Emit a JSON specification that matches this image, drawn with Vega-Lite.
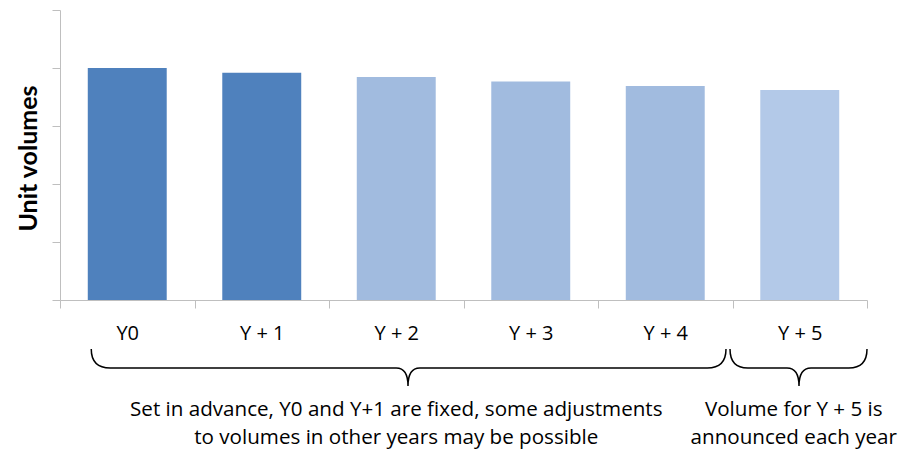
{
  "$schema": "https://vega.github.io/schema/vega-lite/v6.json",
  "width": 807,
  "height": 290,
  "autosize": {"type": "none"},
  "padding": {"left": 60, "top": 10, "right": 54, "bottom": 149},
  "background": "white",
  "config": {"view": {"stroke": null}, "font": "Lato"},
  "data": {
    "values": [
      {"year": "Y0", "volume": 4.0, "status": "fixed"},
      {"year": "Y + 1", "volume": 3.92, "status": "fixed"},
      {"year": "Y + 2", "volume": 3.845, "status": "adjustable"},
      {"year": "Y + 3", "volume": 3.767, "status": "adjustable"},
      {"year": "Y + 4", "volume": 3.69, "status": "adjustable"},
      {"year": "Y + 5", "volume": 3.62, "status": "announced"}
    ]
  },
  "layer": [
    {
      "mark": {"type": "bar", "width": {"band": 0.587}},
      "encoding": {
        "x": {
          "field": "year",
          "type": "nominal",
          "sort": null,
          "scale": {"domain": ["Y0", "Y + 1", "Y + 2", "Y + 3", "Y + 4", "Y + 5"], "paddingInner": 0, "paddingOuter": 0},
          "axis": {
            "title": null,
            "labelAngle": 0,
            "labelFont": "Open Sans",
            "labelFontSize": 20,
            "labelColor": "black",
            "labelBaseline": "alphabetic",
            "labelPadding": 31,
            "domainColor": "#bfbfbf",
            "tickColor": "#bfbfbf",
            "tickSize": 8,
            "tickBand": "extent"
          }
        },
        "y": {
          "field": "volume",
          "type": "quantitative",
          "scale": {"domain": [0, 5]},
          "axis": {
            "values": [0, 1, 2, 3, 4, 5],
            "labels": false,
            "grid": false,
            "tickSize": 8,
            "domainColor": "#bfbfbf",
            "tickColor": "#bfbfbf",
            "title": "Unit volumes",
            "titleFont": "Lato",
            "titleFontSize": 25,
            "titleFontWeight": "bold",
            "titleColor": "black",
            "titleAngle": 270,
            "titleX": -24,
            "titleY": 148,
            "titleAlign": "center",
            "titleBaseline": "alphabetic"
          }
        },
        "color": {
          "field": "status",
          "type": "nominal",
          "scale": {"domain": ["fixed", "adjustable", "announced"], "range": ["#4f81bd", "#a1bbdf", "#b3c9e8"]},
          "legend": null
        }
      }
    },
    {
      "data": {"values": [{"year": "Y + 2"}]},
      "mark": {
        "type": "point",
        "shape": "M -305 49 Q -305 68 -286 68 L 0 68 Q 11.75 68 11.75 86 Q 11.75 68 23.5 68 L 311 68 Q 329.75 68 329.75 49",
        "size": 4,
        "filled": false,
        "stroke": "black",
        "strokeWidth": 1.5,
        "opacity": 1
      },
      "encoding": {
        "x": {"field": "year", "type": "nominal"},
        "y": {"datum": 0, "type": "quantitative"}
      }
    },
    {
      "data": {"values": [{"year": "Y + 5"}]},
      "mark": {
        "type": "point",
        "shape": "M -69.75 49 Q -69.75 68 -52 68 L -12.75 68 Q -0.75 68 -0.75 86 Q -0.75 68 11.25 68 L 49 68 Q 67.25 68 67.25 49",
        "size": 4,
        "filled": false,
        "stroke": "black",
        "strokeWidth": 1.5,
        "opacity": 1
      },
      "encoding": {
        "x": {"field": "year", "type": "nominal"},
        "y": {"datum": 0, "type": "quantitative"}
      }
    },
    {
      "data": {"values": [{"year": "Y + 2", "note": "Set in advance, Y0 and Y+1 are fixed, some adjustments\nto volumes in other years may be possible"}]},
      "mark": {"type": "text", "font": "Open Sans", "lineBreak": "\n", "align": "center", "baseline": "alphabetic", "fontSize": 20.6, "lineHeight": 28, "dy": 116, "color": "black"},
      "encoding": {
        "x": {"field": "year", "type": "nominal"},
        "y": {"datum": 0, "type": "quantitative"},
        "text": {"field": "note"}
      }
    },
    {
      "data": {"values": [{"year": "Y + 5", "note": "Volume for Y + 5 is\nannounced each year"}]},
      "mark": {"type": "text", "font": "Open Sans", "lineBreak": "\n", "align": "center", "baseline": "alphabetic", "fontSize": 20.6, "lineHeight": 28, "dy": 116, "dx": -6, "color": "black"},
      "encoding": {
        "x": {"field": "year", "type": "nominal"},
        "y": {"datum": 0, "type": "quantitative"},
        "text": {"field": "note"}
      }
    }
  ]
}
